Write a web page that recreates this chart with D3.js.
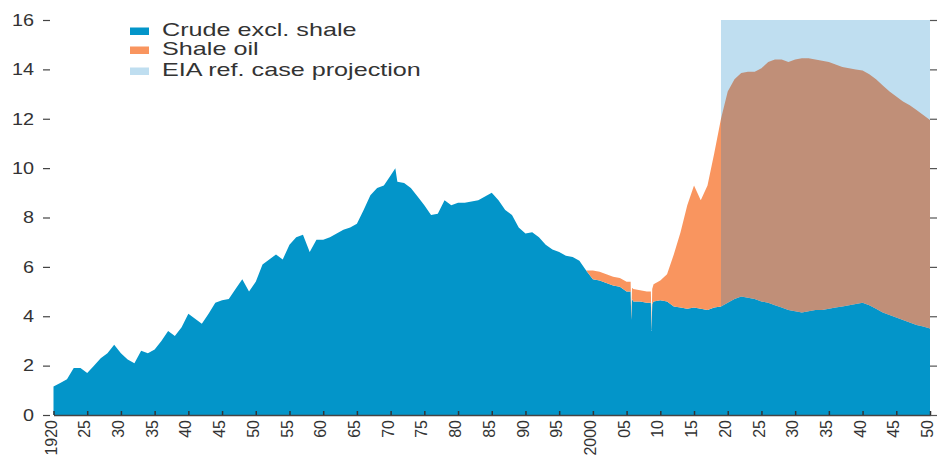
<!DOCTYPE html>
<html><head><meta charset="utf-8">
<script src="https://cdn.jsdelivr.net/npm/d3@7/dist/d3.min.js"></script>
<style>
body{margin:0;background:#fff}
svg{display:block}
text{font-family:"Liberation Sans",Arial,Helvetica,sans-serif;fill:#333}
</style>
</head><body>
<svg id="chart" width="938" height="457"></svg>
<script>
// ---- data (million barrels per day) ----
const years = [
  1920,1921,1922,1923,1924,1925,1926,1927,1928,1929,
  1930,1931,1932,1933,1934,1935,1936,1937,1938,1939,
  1940,1941,1942,1943,1944,1945,1946,1947,1948,1949,
  1950,1951,1952,1953,1954,1955,1956,1957,1958,1959,
  1960,1961,1962,1963,1964,1965,1966,1967,1968,1969,
  1970,1970.7,1971,1972,1973,1974,1975,1976,1977,1978,1979,
  1980,1981,1982,1983,1984,1985,1986,1987,1988,1989,
  1990,1991,1992,1993,1994,1995,1996,1997,1998,1999,
  2000,2001,2002,2003,2004,2005,2005.6,2005.7,2005.8,
  2006,2007,2008,2008.6,2008.7,2008.8,
  2009,2010,2011,2012,2013,2014,2015,2016,2017,2018,2019,
  2020,2021,2022,2023,2024,2025,2026,2027,2028,2029,
  2030,2031,2032,2033,2034,2035,2036,2037,2038,2039,
  2040,2041,2042,2043,2044,2045,2046,2047,2048,2049,2050
];
const crude = [
  1.15,1.3,1.45,1.9,1.9,1.7,2.0,2.3,2.5,2.85,
  2.5,2.25,2.1,2.6,2.5,2.65,3.0,3.4,3.2,3.55,
  4.1,3.9,3.7,4.1,4.55,4.65,4.7,5.1,5.5,5.0,
  5.4,6.1,6.3,6.5,6.3,6.9,7.2,7.3,6.6,7.1,
  7.1,7.2,7.35,7.5,7.6,7.75,8.3,8.9,9.2,9.3,
  9.7,10.0,9.45,9.4,9.2,8.85,8.5,8.1,8.15,8.7,8.5,
  8.6,8.6,8.65,8.7,8.85,9.0,8.7,8.3,8.1,7.6,
  7.35,7.4,7.2,6.9,6.7,6.6,6.45,6.4,6.25,5.85,
  5.5,5.45,5.35,5.25,5.2,5.0,5.0,3.85,4.7,
  4.6,4.6,4.55,4.55,3.4,4.5,
  4.6,4.65,4.6,4.4,4.35,4.3,4.35,4.3,4.25,4.35,4.4,
  4.55,4.7,4.8,4.75,4.7,4.6,4.55,4.45,4.35,4.25,
  4.2,4.15,4.2,4.25,4.25,4.3,4.35,4.4,4.45,4.5,
  4.55,4.45,4.3,4.15,4.05,3.95,3.85,3.75,3.65,3.58,3.5
];
const shaleYears = [
  1999,2000,2001,2002,2003,2004,2005,2005.6,2005.7,2005.8,
  2006,2007,2008,2008.6,2008.7,2008.8,
  2009,2010,2011,2012,2013,2014,2015,2016,2017,2018,2019,
  2020,2021,2022,2023,2024,2025,2026,2027,2028,2029,
  2030,2031,2032,2033,2034,2035,2036,2037,2038,2039,
  2040,2041,2042,2043,2044,2045,2046,2047,2048,2049,2050
];
const shale = [
  0,0.35,0.35,0.35,0.35,0.35,0.4,0.4,0.15,0.45,
  0.5,0.45,0.45,0.45,0.1,0.6,
  0.7,0.8,1.1,2.1,3.05,4.2,4.95,4.4,5.05,6.25,7.6,
  8.55,8.9,9.05,9.15,9.2,9.45,9.75,9.95,10.05,10.05,
  10.2,10.3,10.25,10.15,10.1,10.0,9.85,9.7,9.6,9.5,
  9.4,9.35,9.3,9.2,9.05,8.95,8.85,8.8,8.7,8.57,8.45
];
const projection = [2019, 2050];
const yTicks = [0,2,4,6,8,10,12,14,16];
const xTickYears = [1920,1925,1930,1935,1940,1945,1950,1955,1960,1965,1970,1975,1980,1985,1990,1995,2000,2005,2010,2015,2020,2025,2030,2035,2040,2045,2050];
const xTickLabels = ["1920","25","30","35","40","45","50","55","60","65","70","75","80","85","90","95","2000","05","10","15","20","25","30","35","40","45","50"];
const legendLabels = ["Crude excl. shale","Shale oil","EIA ref. case projection"];

// ---- styles ----
const C_CRUDE = "#0395c9", C_SHALE = "#f9955f", C_SHALE_PROJ = "#c08f78", C_PROJ = "#bfdef0";

const svg = d3.select("#chart");
const x = d3.scaleLinear().domain([1920, 2050]).range([53.5, 930]);
const y = d3.scaleLinear().domain([0, 16]).range([415, 20]);

const shaleMap = new Map(shaleYears.map((yr, i) => [yr, shale[i]]));
const table = years.map((yr, i) => ({year: yr, crude: crude[i], shale: shaleMap.has(yr) ? shaleMap.get(yr) : 0}));
const series = d3.stack().keys(["crude", "shale"])(table);

// gradient for shale (historic orange, projection brown)
const defs = svg.append("defs");
const off = (x(projection[0]) - x(1920)) / (x(2050) - x(1920));
const grad = defs.append("linearGradient").attr("id", "shaleFill")
  .attr("gradientUnits", "userSpaceOnUse")
  .attr("x1", x(1920)).attr("x2", x(2050)).attr("y1", 0).attr("y2", 0);
grad.append("stop").attr("offset", 0).attr("stop-color", C_SHALE);
grad.append("stop").attr("offset", off).attr("stop-color", C_SHALE);
grad.append("stop").attr("offset", off).attr("stop-color", C_SHALE_PROJ);
grad.append("stop").attr("offset", 1).attr("stop-color", C_SHALE_PROJ);

// projection band
svg.append("rect")
  .attr("x", x(projection[0])).attr("y", y(16))
  .attr("width", x(projection[1]) - x(projection[0]))
  .attr("height", y(0) - y(16))
  .attr("fill", C_PROJ);

const area = d3.area()
  .x(d => x(d.data.year)).y0(d => y(d[0])).y1(d => y(d[1]));

svg.append("path").datum(series[0]).attr("d", area).attr("fill", C_CRUDE);
svg.append("path").datum(series[1].filter(d => d.data.year >= 1999))
  .attr("d", area).attr("fill", "url(#shaleFill)");

// left axis
const gl = svg.append("g").attr("transform", "translate(50,0)")
  .call(d3.axisLeft(y).tickValues(yTicks).tickSize(7));
gl.select(".domain").remove();
gl.selectAll(".tick line").attr("stroke", "#444").attr("stroke-width", 1.2);
gl.selectAll(".tick text")
  .attr("x", -16 / 1.2).attr("transform", "scale(1.2,1)")
  .attr("font-size", 16.5).attr("fill", "#333")
  .style("font-family", "'Liberation Sans', Arial, sans-serif");

// right axis ticks
const gr = svg.append("g").attr("transform", "translate(930,0)")
  .call(d3.axisRight(y).tickValues(yTicks).tickSize(7).tickFormat(""));
gr.select(".domain").remove();
gr.selectAll(".tick line").attr("stroke", "#555").attr("stroke-width", 1.2);

// bottom axis
const gb = svg.append("g").attr("transform", "translate(0,415)")
  .call(d3.axisBottom(x).tickValues(xTickYears).tickSizeInner(-4).tickSizeOuter(0)
    .tickFormat((d, i) => xTickLabels[i]));
gb.select(".domain").attr("stroke", "#444").attr("stroke-width", 1.5);
gb.selectAll(".tick line").attr("stroke", "#333").attr("stroke-width", 1.5);
gb.selectAll(".tick text")
  .attr("transform", "rotate(-90)")
  .attr("text-anchor", "end")
  .attr("x", -5).attr("y", -3).attr("dy", "0.35em")
  .attr("font-size", 16).attr("fill", "#333")
  .style("font-family", "'Liberation Sans', Arial, sans-serif");

// legend
const legendColors = [C_CRUDE, C_SHALE, C_PROJ];
const legendBase = [36, 55, 76];
const lg = svg.append("g");
legendLabels.forEach((t, i) => {
  lg.append("rect").attr("x", 130).attr("y", legendBase[i] - 8.5)
    .attr("width", 19).attr("height", 7.5).attr("fill", legendColors[i]);
  lg.append("text").attr("transform", `translate(162,${legendBase[i]}) scale(1.4,1)`)
    .attr("font-size", 18).attr("fill", "#333").text(t);
});
</script>
</body></html>
